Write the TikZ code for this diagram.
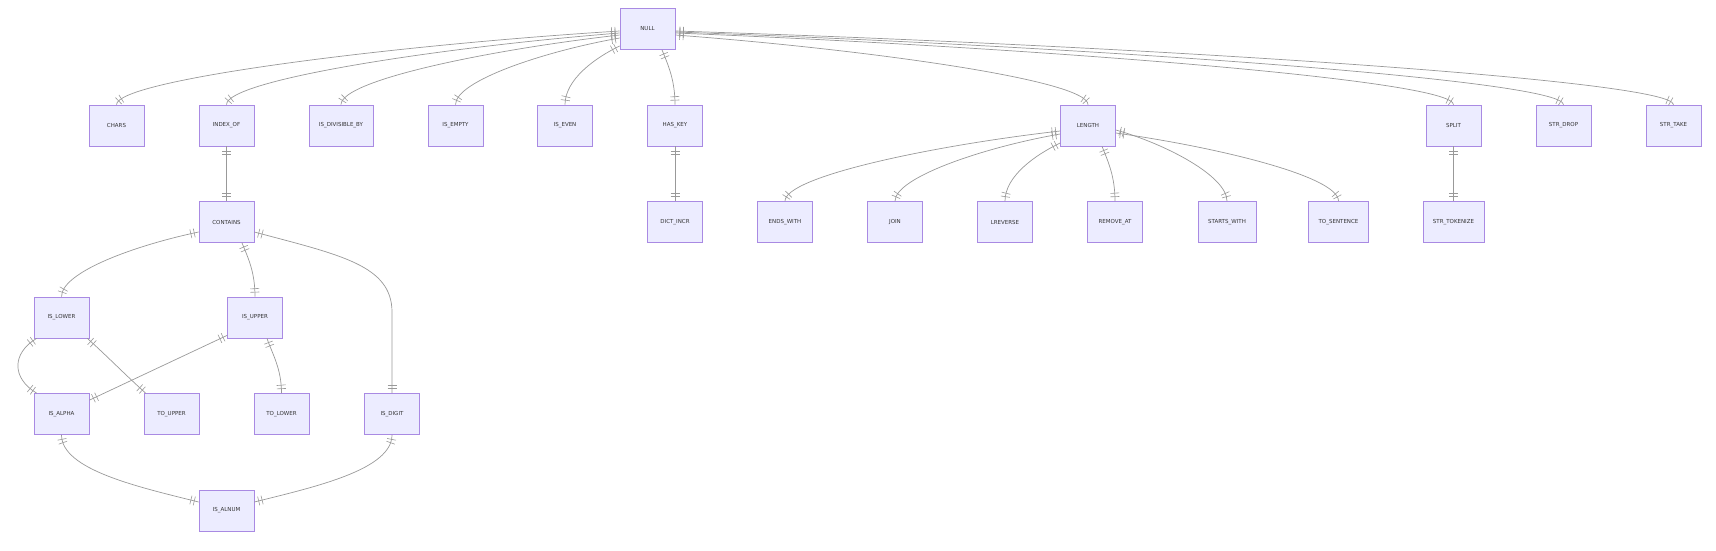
\documentclass[tikz,border=0pt]{standalone}
\usepackage{fontspec}
\setmainfont{DejaVu Sans}
\usetikzlibrary{decorations.markings}
\definecolor{entfill}{HTML}{ECECFF}
\definecolor{entline}{HTML}{A98AE3}
\definecolor{linkgray}{HTML}{999999}
\definecolor{txtgray}{HTML}{333333}
\tikzset{
  entity/.style={draw=entline, fill=entfill, line width=0.7pt, minimum width=55pt,
    minimum height=41pt, inner xsep=10pt, text=txtgray, font=\fontsize{5.5}{6}\selectfont},
  onebar/.style={line width=0.6pt, draw=linkgray},
  onlyone/.style={draw=linkgray, line width=0.7pt, postaction={decorate},
    decoration={markings,
      mark=at position 4.5pt with {\draw[onebar] (0,-4.5pt) -- (0,4.5pt);},
      mark=at position 8pt with {\draw[onebar] (0,-4.5pt) -- (0,4.5pt);},
      mark=at position -4.5pt with {\draw[onebar] (0,-4.5pt) -- (0,4.5pt);},
      mark=at position -8pt with {\draw[onebar] (0,-4.5pt) -- (0,4.5pt);}}}
}
\begin{document}
\begin{tikzpicture}[x=1pt, y=1pt]
  \useasboundingbox (0,0) rectangle (1716,-550);
  % 根节点
  \node[entity] (nul) at (647.5,-29) {NULL};
  % 第一层
  \node[entity] (chars) at (116.5,-125.5) {CHARS};
  \node[entity] (indexof) at (226.5,-125.5) {INDEX\_OF};
  \node[entity] (isdivisibleby) at (341,-125.5) {IS\_DIVISIBLE\_BY};
  \node[entity] (isempty) at (455.5,-125.5) {IS\_EMPTY};
  \node[entity] (iseven) at (565,-125.5) {IS\_EVEN};
  \node[entity] (haskey) at (675,-125.5) {HAS\_KEY};
  \node[entity] (length) at (1088,-125.5) {LENGTH};
  \node[entity] (split) at (1453.5,-125.5) {SPLIT};
  \node[entity] (strdrop) at (1563.5,-125.5) {STR\_DROP};
  \node[entity] (strtake) at (1673.5,-125.5) {STR\_TAKE};
  % 第二层
  \node[entity] (contains) at (226.5,-222) {CONTAINS};
  \node[entity] (dictincr) at (675,-222) {DICT\_INCR};
  \node[entity] (endswith) at (785,-222) {ENDS\_WITH};
  \node[entity] (join) at (895,-222) {JOIN};
  \node[entity] (lreverse) at (1005,-222) {LREVERSE};
  \node[entity] (removeat) at (1115,-222) {REMOVE\_AT};
  \node[entity] (startswith) at (1227,-222) {STARTS\_WITH};
  \node[entity] (tosentence) at (1338.5,-222) {TO\_SENTENCE};
  \node[entity] (strtokenize) at (1453.5,-222) {STR\_TOKENIZE};
  % 第三至五层
  \node[entity] (islower) at (61.5,-317.5) {IS\_LOWER};
  \node[entity] (isupper) at (255,-317.5) {IS\_UPPER};
  \node[entity] (isalpha) at (61.5,-414) {IS\_ALPHA};
  \node[entity] (toupper) at (171.5,-414) {TO\_UPPER};
  \node[entity] (tolower) at (281.5,-414) {TO\_LOWER};
  \node[entity] (isdigit) at (392,-414) {IS\_DIGIT};
  \node[entity] (isalnum) at (226.5,-510.5) {IS\_ALNUM};

  % NULL 左侧连线
  \draw[onlyone] ([yshift=-2pt]nul.west) .. controls +(-226,-14) and +(0,25) .. (chars.north);
  \draw[onlyone] ([yshift=-4pt]nul.west) .. controls +(-177,-14) and +(0,25) .. (indexof.north);
  \draw[onlyone] ([yshift=-6pt]nul.west) .. controls +(-125,-14) and +(0,25) .. (isdivisibleby.north);
  \draw[onlyone] ([yshift=-9pt]nul.west) .. controls +(-74,-13) and +(0,24) .. (isempty.north);
  \draw[onlyone] ([yshift=-17pt]nul.west) .. controls +(-25,-12) and +(0,25) .. (iseven.north);
  \draw[onlyone] ([xshift=14.5pt]nul.south) .. controls +(6,-15) and +(0,25) .. (haskey.north);
  % NULL 右侧连线
  \draw[onlyone] ([yshift=-6pt]nul.east) .. controls +(186,-14) and +(0,25) .. (length.north);
  \draw[onlyone] ([yshift=-4pt]nul.east) .. controls +(350,-14) and +(0,25) .. (split.north);
  \draw[onlyone] ([yshift=-3pt]nul.east) .. controls +(400,-14) and +(0,25) .. (strdrop.north);
  \draw[onlyone] ([yshift=-2pt]nul.east) .. controls +(450,-14) and +(0,25) .. (strtake.north);

  % 竖直连线
  \draw[onlyone] (indexof) -- (contains);
  \draw[onlyone] (haskey) -- (dictincr);
  \draw[onlyone] (split) -- (strtokenize);

  % LENGTH 子节点
  \draw[onlyone] ([yshift=-5.5pt]length.west) .. controls +(-124,-14) and +(0,25) .. (endswith.north);
  \draw[onlyone] ([yshift=-8.5pt]length.west) .. controls +(-75,-13) and +(0,24) .. (join.north);
  \draw[onlyone] ([yshift=-17.5pt]length.west) .. controls +(-25,-12) and +(0,25) .. (lreverse.north);
  \draw[onlyone] ([xshift=14pt]length.south) .. controls +(6,-15) and +(0,25) .. (removeat.north);
  \draw[onlyone] ([yshift=-4.5pt]length.east) .. controls +(50,-14) and +(0,25) .. (startswith.north);
  \draw[onlyone] ([yshift=-7.5pt]length.east) .. controls +(100,-14) and +(0,25) .. (tosentence.north);

  % CONTAINS 子节点
  \draw[onlyone] ([yshift=-10pt]contains.west) .. controls +(-62,-13) and +(0,25) .. (islower.north);
  \draw[onlyone] ([xshift=15.5pt]contains.south) .. controls +(6,-15) and +(0,25) .. (isupper.north);
  \draw[onlyone] ([yshift=-10pt]contains.east) .. controls +(86,-23) and +(0,47) .. ([yshift=81pt]isdigit.north) -- (isdigit.north);

  % 大小写与字母数字
  \draw[onlyone] ([xshift=3pt]islower.south west) .. controls +(-25,-15) and +(-25,15) .. ([xshift=3pt]isalpha.north west);
  \draw[onlyone] ([xshift=-2pt]islower.south east) .. controls +(20,-18) and +(-20,18) .. ([xshift=2pt]toupper.north west);
  \draw[onlyone] ([yshift=3pt]isupper.south west) -- ([yshift=-7pt]isalpha.north east);
  \draw[onlyone] ([xshift=12pt]isupper.south) .. controls +(5,-15) and +(0,25) .. (tolower.north);
  \draw[onlyone] (isalpha.south) .. controls +(0,-35) and +(-60,15) .. ([yshift=8.5pt]isalnum.west);
  \draw[onlyone] (isdigit.south) .. controls +(0,-35) and +(60,15) .. ([yshift=8.5pt]isalnum.east);
\end{tikzpicture}
\end{document}
